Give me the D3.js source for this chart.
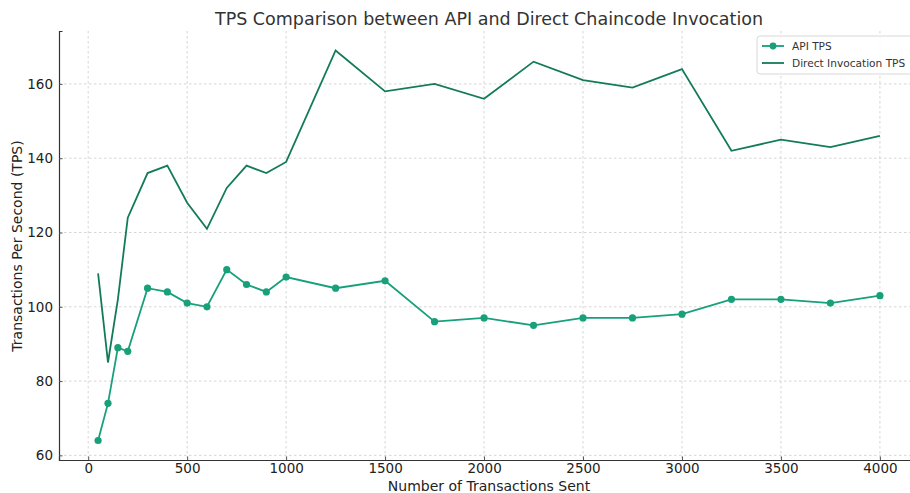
<!DOCTYPE html>
<html><head><meta charset="utf-8">
<script src="https://cdn.jsdelivr.net/npm/d3@7"></script>
<style>body{margin:0;background:#fff}svg{display:block}</style>
</head><body><svg id="c" width="910" height="493"></svg>
<script>
const txSent = [50,100,150,200,300,400,500,600,700,800,900,1000,1250,1500,1750,2000,2250,2500,2750,3000,3250,3500,3750,4000];
const apiTps = [64,74,89,88,105,104,101,100,110,106,104,108,105,107,96,97,95,97,97,98,102,102,101,103];
const directTps = [109,85,102,124,136,138,128,121,132,138,136,139,169,158,160,156,166,161,159,164,142,145,143,146];
const xTicks = [0,500,1000,1500,2000,2500,3000,3500,4000];
const yTicks = [60,80,100,120,140,160];
const seriesNames = ["API TPS","Direct Invocation TPS"];
const colApi = "#17a07a", colDir = "#137b5b";

const svg = d3.select("#c");
const L=59, T=31, B=460;
const x = d3.scaleLinear().domain([-147.5,4197.5]).range([L, 919]);
const y = d3.scaleLinear().domain([58.75,174.25]).range([B, T]);
const font = "DejaVu Sans, sans-serif";

// grid
const g = svg.append("g");
g.selectAll(".gx").data(xTicks).join("line")
 .attr("x1",d=>x(d)).attr("x2",d=>x(d)).attr("y1",T).attr("y2",B)
 .attr("stroke","#cccccc").attr("stroke-width",0.8).attr("stroke-dasharray","2.5,2.5");
g.selectAll(".gy").data(yTicks).join("line")
 .attr("x1",L).attr("x2",919).attr("y1",d=>y(d)).attr("y2",d=>y(d))
 .attr("stroke","#cccccc").attr("stroke-width",0.8).attr("stroke-dasharray","2.5,2.5");

// axes
const xa = svg.append("g").attr("transform",`translate(0,${B})`)
 .call(d3.axisBottom(x).tickValues(xTicks).tickSize(-3.5).tickPadding(3).tickFormat(d3.format("d")));
const ya = svg.append("g").attr("transform",`translate(${L},0)`)
 .call(d3.axisLeft(y).tickValues(yTicks).tickSize(-3.5).tickPadding(6));
[xa,ya].forEach(a=>{
  a.select(".domain").attr("stroke","#333").attr("stroke-width",1.2);
  a.selectAll(".tick line").attr("stroke","#555");
  a.selectAll("text").attr("font-family",font).attr("font-size",13.5).attr("fill","#222");
});

const line = d3.line().x((d,i)=>x(txSent[i])).y(d=>y(d));
svg.append("path").datum(directTps).attr("d",line).attr("fill","none")
 .attr("stroke",colDir).attr("stroke-width",1.8);
svg.append("path").datum(apiTps).attr("d",line).attr("fill","none")
 .attr("stroke",colApi).attr("stroke-width",1.8);
svg.selectAll(".pt").data(apiTps).join("circle")
 .attr("cx",(d,i)=>x(txSent[i])).attr("cy",d=>y(d)).attr("r",3.6).attr("fill",colApi);

// title & labels
svg.append("text").attr("x",489).attr("y",25).attr("text-anchor","middle")
 .attr("font-family",font).attr("font-size",17.5).attr("fill","#333")
 .text("TPS Comparison between API and Direct Chaincode Invocation");
svg.append("text").attr("x",489).attr("y",491).attr("text-anchor","middle")
 .attr("font-family",font).attr("font-size",14).attr("fill","#222").text("Number of Transactions Sent");
svg.append("text").attr("transform","translate(22,246) rotate(-90)").attr("text-anchor","middle")
 .attr("font-family",font).attr("font-size",14).attr("fill","#222").text("Transactions Per Second (TPS)");

// legend
const lg = svg.append("g").attr("transform","translate(757,36)");
lg.append("rect").attr("width",160).attr("height",38).attr("rx",3)
 .attr("fill","#fff").attr("fill-opacity",0.85).attr("stroke","#d8d8d8");
const cols=[colApi,colDir];
seriesNames.forEach((n,i)=>{
  const yy = 10+i*17;
  lg.append("line").attr("x1",5).attr("x2",27).attr("y1",yy).attr("y2",yy).attr("stroke",cols[i]).attr("stroke-width",1.8);
  if(i===0) lg.append("circle").attr("cx",16).attr("cy",yy).attr("r",3.4).attr("fill",cols[i]);
  lg.append("text").attr("x",35).attr("y",yy+4).attr("font-family",font).attr("font-size",10.6).attr("fill","#333").text(n);
});
</script></body></html>
